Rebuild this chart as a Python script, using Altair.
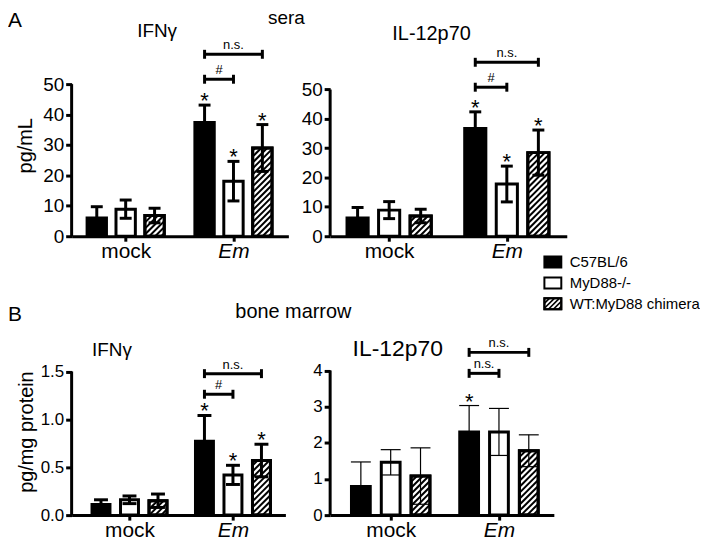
import math
import altair as alt
import pandas as pd

FONT = "Liberation Sans"

groups = ["mock", "Em"]
series = ["C57BL/6", "MyD88-/-", "WT:MyD88 chimera"]
fills = ["black", "white", "white"]

# order: mock (C57BL/6, MyD88-/-, chimera), Em (C57BL/6, MyD88-/-, chimera)
sera_ifn_mean = [6.0, 8.9, 6.8, 37.4, 18.1, 29.0]
sera_ifn_sem = [3.7, 3.0, 2.4, 5.7, 6.5, 7.7]
sera_il12_mean = [6.2, 8.9, 6.9, 36.7, 17.8, 28.5]
sera_il12_sem = [3.6, 2.9, 2.3, 5.7, 6.1, 7.7]
bm_ifn_mean = [0.11, 0.16, 0.15, 0.77, 0.42, 0.57]
bm_ifn_sem = [0.05, 0.04, 0.07, 0.27, 0.10, 0.17]
bm_il12_mean = [0.79, 1.46, 1.08, 2.30, 2.30, 1.78]
bm_il12_sem = [0.68, 0.35, 0.78, 0.73, 0.65, 0.44]

sera_ifn_star = [0, 0, 0, 1, 1, 1]
sera_il12_star = [0, 0, 0, 1, 1, 1]
bm_ifn_star = [0, 0, 0, 1, 1, 1]
bm_il12_star = [0, 0, 0, 1, 0, 0]

# (from series, to series, height, label) within the Em group
sera_ifn_brackets = [(0, 2, 59.8, "n.s."), (0, 1, 51.6, "#")]
sera_il12_brackets = [(0, 2, 59.3, "n.s."), (0, 1, 50.8, "#")]
bm_ifn_brackets = [(0, 2, 1.477, "n.s."), (0, 1, 1.262, "#")]
bm_il12_brackets = [(0, 2, 4.50, "n.s."), (0, 1, 3.92, "n.s.")]

sera_ticks = [0, 10, 20, 30, 40, 50]
bm_ifn_ticks = [0.0, 0.5, 1.0, 1.5]
bm_il12_ticks = [0, 1, 2, 3, 4]

XMAX = 7.5
fill_scale = alt.Scale(domain=series, range=fills)


def hatch(x0, x1, top, sx, sy, step=6.0):
    X0, X1, T = x0 * sx, x1 * sx, top * sy
    segs = []
    k = int(math.floor(-X1 / step)) - 1
    while k * step < T - X0 + step:
        b = k * step
        lo = max(X0, -b)
        hi = min(X1, T - b)
        if hi - lo > 0.3:
            segs.append(dict(hx0=lo / sx, hx1=hi / sx, hy0=(lo + b) / sy, hy1=(hi + b) / sy))
        k += 1
    return segs


def label(text, x, y, size, align="center", angle=0, style="normal"):
    return alt.Chart(pd.DataFrame({"t": [text]})).mark_text(
        align=align, baseline="alphabetic", fontSize=size, font=FONT,
        angle=angle, fontStyle=style, color="black"
    ).encode(x=alt.value(x), y=alt.value(y), text="t:N")


def panel(mean, sem, stars, brackets, ticks, yfmt, ymax, W, H, centers, bw,
          err_w, cap_px, tick_fs, lab_pad, extras):
    sx = W / XMAX
    sy = H / ymax
    rows = []
    for gi, g in enumerate(groups):
        for si, s in enumerate(series):
            k = gi * 3 + si
            c = centers[gi] + (si - 1)
            rows.append(dict(group=g, series=s, c=c, x0=c - bw / 2, x1=c + bw / 2,
                             zero=0.0, mean=mean[k], lo=mean[k] - sem[k],
                             hi=mean[k] + sem[k], star=stars[k],
                             cl=c - cap_px / sx, cr=c + cap_px / sx,
                             hatched=int(si == 2)))
    df = pd.DataFrame(rows)
    hrows = []
    for r in rows:
        if r["hatched"]:
            hrows += hatch(r["x0"], r["x1"], r["mean"], sx, sy)
    hdf = pd.DataFrame(hrows)
    em = centers[1]
    brows, crows = [], []
    for a, b, yb, lab in brackets:
        xa, xb = em + a - 1, em + b - 1
        brows.append(dict(xa=xa, xb=xb, yb=yb, xm=(xa + xb) / 2, label=lab))
        for xe in (xa, xb):
            crows.append(dict(xe=xe, ylo=yb - 4.5 / sy, yhi=yb + 4.5 / sy))
    bdf = pd.DataFrame(brows)
    cdf = pd.DataFrame(crows)

    xscale = alt.Scale(domain=[0, XMAX], nice=False, zero=False)
    yscale = alt.Scale(domain=[0, ymax], nice=False, zero=False)
    xaxis = alt.Axis(
        values=centers, labelExpr="datum.value < 3.5 ? 'mock' : 'Em'",
        labelFontStyle={"condition": {"test": "datum.value > 3.5", "value": "italic"},
                        "value": "normal"},
        labelFont=FONT, labelFontSize=21, labelColor="black",
        labelBaseline="alphabetic", labelPadding=lab_pad, labelAngle=0,
        tickSize=5, tickWidth=3, tickColor="black",
        domainColor="black", domainWidth=3, grid=False, title=None)
    yaxis = alt.Axis(
        values=ticks, format=yfmt, domain=False, tickSize=6, tickWidth=3,
        tickColor="black", labelFont=FONT, labelFontSize=tick_fs,
        labelColor="black", labelPadding=2, grid=False, title=None)

    def X(f):
        return alt.X(f, type="quantitative", scale=xscale, axis=xaxis)

    def Y(f):
        return alt.Y(f, type="quantitative", scale=yscale, axis=yaxis)

    bars = alt.Chart(df).mark_rect(stroke="black", strokeWidth=3).encode(
        x=X("x0"), x2="x1", y=Y("zero"), y2="mean",
        fill=alt.Fill("series:N", scale=fill_scale, legend=None))
    hatch_l = alt.Chart(hdf).mark_rule(color="black", strokeWidth=2).encode(
        x=X("hx0"), x2="hx1", y=Y("hy0"), y2="hy1")
    outline = alt.Chart(df).transform_filter("datum.hatched == 1").mark_rect(
        fillOpacity=0, stroke="black", strokeWidth=3).encode(
        x=X("x0"), x2="x1", y=Y("zero"), y2="mean")
    yline = alt.Chart(pd.DataFrame({"a": [0], "b": [ticks[-1]]})).mark_rule(
        color="black", strokeWidth=3).encode(x=alt.value(0), y=Y("a"), y2="b")
    err = alt.Chart(df).mark_rule(color="black", strokeWidth=err_w).encode(
        x=X("c"), y=Y("lo"), y2="hi")
    cap_hi = alt.Chart(df).mark_rule(color="black", strokeWidth=err_w).encode(
        x=X("cl"), x2="cr", y=Y("hi"))
    cap_lo = alt.Chart(df).mark_rule(color="black", strokeWidth=err_w).encode(
        x=X("cl"), x2="cr", y=Y("lo"))
    star = alt.Chart(df).transform_filter("datum.star == 1").mark_text(
        text="*", fontSize=22, font=FONT, baseline="alphabetic", dy=3,
        color="black").encode(x=X("c"), y=Y("hi"))
    bline = alt.Chart(bdf).mark_rule(color="black", strokeWidth=3).encode(
        x=X("xa"), x2="xb", y=Y("yb"))
    bcap = alt.Chart(cdf).mark_rule(color="black", strokeWidth=3).encode(
        x=X("xe"), y=Y("ylo"), y2="yhi")
    btext = alt.Chart(bdf).mark_text(fontSize=13, font=FONT, baseline="alphabetic",
                                     dy=-5, color="black").encode(
        x=X("xm"), y=Y("yb"), text="label:N")
    return alt.layer(bars, hatch_l, outline, yline, err, cap_hi, cap_lo, star,
                     bline, bcap, btext, *extras).properties(width=W, height=H)


# legend (placed beside the sera IL-12p70 panel)
LX0, LX1 = 215.5, 232.5
leg_rows, leg_hatch = [], []
for i, s in enumerate(series):
    cy = 179 + 21 * i
    leg_rows.append(dict(series=s, ly=cy, ly0=cy - 5.5, ly1=cy + 5.5, hatched=int(i == 2)))
    if i == 2:
        top, bot = cy - 5.5, cy + 5.5
        b = LX0 + top
        while b < LX1 + bot + 5:
            lo = max(LX0, b - bot)
            hi = min(LX1, b - top)
            if hi - lo > 0.3:
                leg_hatch.append(dict(lx0=lo, lx1=hi, lya=b - lo, lyb=b - hi))
            b += 5
ldf = pd.DataFrame(leg_rows)
lhdf = pd.DataFrame(leg_hatch)
leg_box = alt.Chart(ldf).mark_rect(stroke="black", strokeWidth=2).encode(
    x=alt.value(LX0), x2=alt.value(LX1),
    y=alt.Y("ly0:Q", scale=None), y2="ly1:Q",
    fill=alt.Fill("series:N", scale=fill_scale, legend=None))
leg_h = alt.Chart(lhdf).mark_rule(color="black", strokeWidth=1.6).encode(
    x=alt.X("lx0:Q", scale=None), x2="lx1:Q",
    y=alt.Y("lya:Q", scale=None), y2="lyb:Q")
leg_out = alt.Chart(ldf).transform_filter("datum.hatched == 1").mark_rect(
    fillOpacity=0, stroke="black", strokeWidth=2).encode(
    x=alt.value(LX0), x2=alt.value(LX1),
    y=alt.Y("ly0:Q", scale=None), y2="ly1:Q")
leg_txt = alt.Chart(ldf).mark_text(align="left", baseline="middle", fontSize=15,
                                   font=FONT, color="black").encode(
    x=alt.value(241), y=alt.Y("ly:Q", scale=None), text="series:N")

A_centers = [1.87, 5.6]
B_centers = [2.03, 5.66]

pA1 = panel(sera_ifn_mean, sera_ifn_sem, sera_ifn_star, sera_ifn_brackets,
            sera_ticks, "d", 50, 218, 153, A_centers, 0.67, 3, 6, 19, 16,
            [label("A", -64, -57, 21, align="left"),
             label("IFNγ", 86, -47, 19),
             label("sera", 216, -60, 19),
             label("pg/mL", -40, 62, 20, angle=270)])
pA2 = panel(sera_il12_mean, sera_il12_sem, sera_il12_star, sera_il12_brackets,
            sera_ticks, "d", 51.86, 238, 153, A_centers, 0.67, 3, 6, 19, 16,
            [label("IL-12p70", 102, -44, 20), leg_box, leg_h, leg_out, leg_txt])
pB1 = panel(bm_ifn_mean, bm_ifn_sem, bm_ifn_star, bm_ifn_brackets,
            bm_ifn_ticks, ".1f", 1.5156, 215, 146, B_centers, 0.63, 3, 7, 17, 17,
            [label("B", -64, -49.5, 21, align="left"),
             label("bone marrow", 223, -52.5, 20),
             label("IFNγ", 40.5, -14.5, 19),
             label("pg/mg protein", -39, 62.5, 20, angle=270)])
pB2 = panel(bm_il12_mean, bm_il12_sem, bm_il12_star, bm_il12_brackets,
            bm_il12_ticks, "d", 4.014, 225, 146, B_centers, 0.63, 1.2, 10, 17, 17,
            [label("IL-12p70", 68, -14.5, 23)])

chart = alt.concat(pA1, pA2, pB1, pB2, columns=2,
                   spacing={"row": 134.5, "column": 42}, bounds="flush") \
    .properties(padding=0) \
    .configure(font=FONT) \
    .configure_view(stroke=None)

chart.save("out.html", embed_options={"renderer": "svg", "actions": False})
